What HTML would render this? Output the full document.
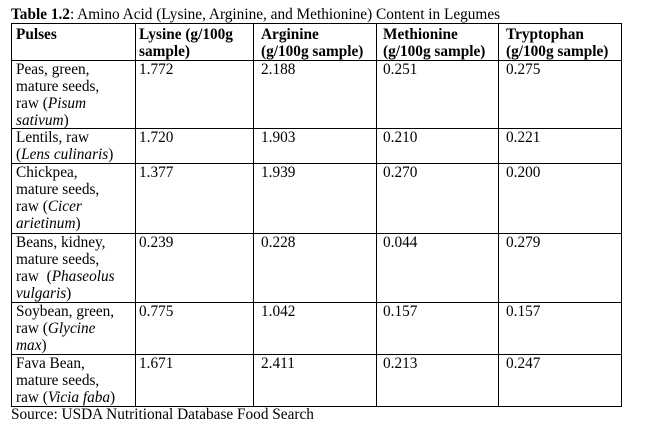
<!DOCTYPE html>
<html><head><style>
body{margin:0;width:670px;height:426px;background:#fff;font-family:"Liberation Serif",serif;font-size:15.3px;color:#000;position:relative;overflow:hidden}
.t{position:absolute;line-height:17px;white-space:nowrap}
.h{position:absolute;background:#000;height:1.3px}
.v{position:absolute;background:#000;width:1.3px}
b{font-weight:bold}
</style></head><body>
<div class="t" style="left:11px;top:6px">
<b>Table 1.2</b>: Amino Acid (Lysine, Arginine, and Methionine) Content in Legumes</div>
<div class="h" style="left:11px;width:611px;top:23px"></div>
<div class="h" style="left:11px;width:611px;top:60px"></div>
<div class="h" style="left:11px;width:611px;top:128px"></div>
<div class="h" style="left:11px;width:611px;top:163px"></div>
<div class="h" style="left:11px;width:611px;top:233px"></div>
<div class="h" style="left:11px;width:611px;top:302px"></div>
<div class="h" style="left:11px;width:611px;top:354px"></div>
<div class="h" style="left:11px;width:611px;top:406px"></div>
<div class="v" style="left:11px;top:23px;height:384px"></div>
<div class="v" style="left:135px;top:23px;height:384px"></div>
<div class="v" style="left:253px;top:23px;height:384px"></div>
<div class="v" style="left:376px;top:23px;height:384px"></div>
<div class="v" style="left:498px;top:23px;height:384px"></div>
<div class="v" style="left:621px;top:23px;height:384px"></div>

<div class="t" style="left:16px;top:26px"><b>Pulses</b></div>
<div class="t" style="left:139px;top:26px"><b>Lysine (g/100g<br>sample)</b></div>
<div class="t" style="left:261px;top:26px"><b>Arginine<br>(g/100g sample)</b></div>
<div class="t" style="left:383px;top:26px"><b>Methionine<br>(g/100g sample)</b></div>
<div class="t" style="left:506px;top:26px"><b>Tryptophan<br>(g/100g sample)</b></div>

<div class="t" style="left:16px;top:61px">Peas, green,<br>mature seeds,<br>raw (<i>Pisum<br>sativum</i>)</div>
<div class="t" style="left:139px;top:61px">1.772</div><div class="t" style="left:261px;top:61px">2.188</div><div class="t" style="left:383px;top:61px">0.251</div><div class="t" style="left:506px;top:61px">0.275</div>

<div class="t" style="left:16px;top:129px">Lentils, raw<br>(<i>Lens culinaris</i>)</div>
<div class="t" style="left:139px;top:129px">1.720</div><div class="t" style="left:261px;top:129px">1.903</div><div class="t" style="left:383px;top:129px">0.210</div><div class="t" style="left:506px;top:129px">0.221</div>

<div class="t" style="left:16px;top:164px">Chickpea,<br>mature seeds,<br>raw (<i>Cicer<br>arietinum</i>)</div>
<div class="t" style="left:139px;top:164px">1.377</div><div class="t" style="left:261px;top:164px">1.939</div><div class="t" style="left:383px;top:164px">0.270</div><div class="t" style="left:506px;top:164px">0.200</div>

<div class="t" style="left:16px;top:234px">Beans, kidney,<br>mature seeds,<br>raw &nbsp;(<i>Phaseolus<br>vulgaris</i>)</div>
<div class="t" style="left:139px;top:234px">0.239</div><div class="t" style="left:261px;top:234px">0.228</div><div class="t" style="left:383px;top:234px">0.044</div><div class="t" style="left:506px;top:234px">0.279</div>

<div class="t" style="left:16px;top:303px">Soybean, green,<br>raw (<i>Glycine<br>max</i>)</div>
<div class="t" style="left:139px;top:303px">0.775</div><div class="t" style="left:261px;top:303px">1.042</div><div class="t" style="left:383px;top:303px">0.157</div><div class="t" style="left:506px;top:303px">0.157</div>

<div class="t" style="left:16px;top:355px">Fava Bean,<br>mature seeds,<br>raw (<i>Vicia faba</i>)</div>
<div class="t" style="left:139px;top:355px">1.671</div><div class="t" style="left:261px;top:355px">2.411</div><div class="t" style="left:383px;top:355px">0.213</div><div class="t" style="left:506px;top:355px">0.247</div>

<div class="t" style="left:11px;top:406px">Source: USDA Nutritional Database Food Search</div>
</body></html>
